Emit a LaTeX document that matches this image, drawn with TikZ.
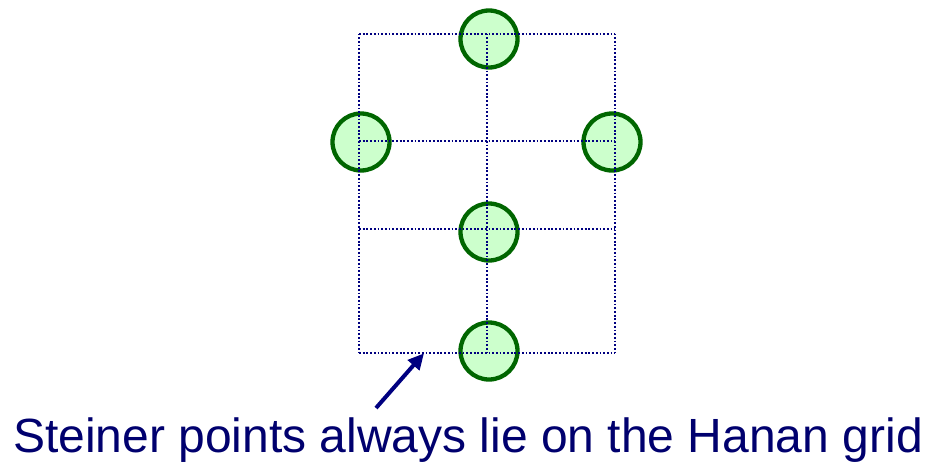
\documentclass[tikz,border=0pt]{standalone}
\usepackage{fontspec}
\setmainfont{Liberation Sans}
\usetikzlibrary{arrows.meta}
\definecolor{gridblue}{RGB}{0,0,128}
\definecolor{textblue}{RGB}{0,0,110}
\definecolor{termfill}{RGB}{204,255,204}
\definecolor{termline}{RGB}{0,102,0}
\begin{document}
\begin{tikzpicture}[x=1pt,y=-1pt,
  terminal/.style={circle,draw=termline,fill=termfill,line width=4.3pt,minimum size=57pt,inner sep=0pt},
  hanan/.style={draw=gridblue,line width=2pt,dash pattern=on 1.8pt off 1.9pt},
  pointer/.style={draw=gridblue,line width=4pt,-{Triangle[length=16pt,width=15pt]}}]
\path[use as bounding box] (0,0) rectangle (928,463);
% terminals
\node[terminal] (t1) at (489,39) {};
\node[terminal] (t2) at (361,142) {};
\node[terminal] (t3) at (612,142) {};
\node[terminal] (t4) at (489,232) {};
\node[terminal] (t5) at (489,351) {};
% grid coordinates
\coordinate (a1) at (359,33.5);  \coordinate (b1) at (487,33.5);  \coordinate (c1) at (615,33.5);
\coordinate (a2) at (359,141.3); \coordinate (c2) at (615,141.3);
\coordinate (a3) at (359,229.3); \coordinate (c3) at (615,229.3);
\coordinate (a4) at (359,353.3); \coordinate (b4) at (487,353.3); \coordinate (c4) at (615,353.3);
% Hanan grid
\path[hanan] (a1) -- (c1);
\path[hanan] (a2) -- (c2);
\path[hanan] (a3) -- (c3);
\path[hanan] (a4) -- (c4);
\path[hanan] (a1) -- (a4);
\path[hanan] (b1) -- (b4);
\path[hanan] (c1) -- (c4);
% pointer
\coordinate (tail) at (376,408);
\coordinate (tip) at (424,353.3);
\path[pointer] (tail) -- (tip);
% caption
\node[text=textblue,font=\fontsize{48}{54}\selectfont,anchor=base,inner sep=0pt] (cap) at (468,452) {Steiner points always lie on the Hanan grid};
\end{tikzpicture}
\end{document}
